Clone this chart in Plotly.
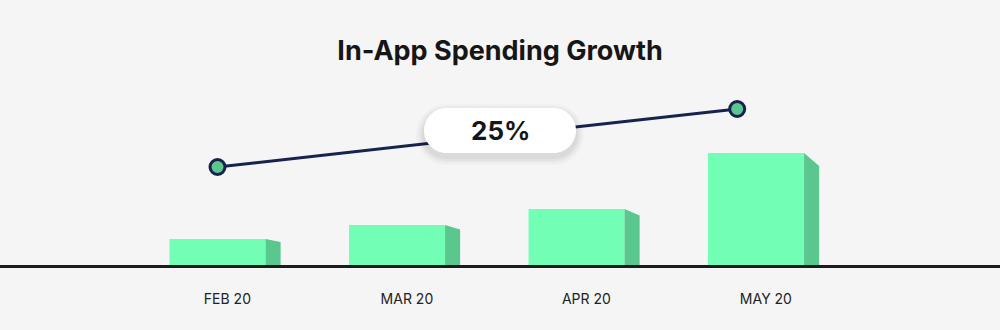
import plotly.graph_objects as go

# ---- data ----
categories = ["FEB 20", "MAR 20", "APR 20", "MAY 20"]
spending = [26, 40, 56, 112]          # bar heights (relative units)
trend_x = [0, 2.895]                  # trend line start/end (category index units)
trend_y = [98, 156]                   # trend line values
growth_label = "25%"
title_text = "In-App Spending Growth"

# ---- style ----
BG = "#f5f5f5"
FRONT = "#72feb5"
SIDE = "#5ac78f"
NAVY = "#17234d"
DARK = "#1c1c1c"
bar_w = 0.535
side_w = 0.084
slant = 0.115
label_shift = 0.055

idx = list(range(len(categories)))

fig = go.Figure()

# side faces of bars (3D look)
for i, v in zip(idx, spending):
    xr = i + bar_w / 2
    fig.add_trace(go.Scatter(
        x=[xr, xr, xr + side_w, xr + side_w, xr],
        y=[0, v, v - v * slant, 0, 0],
        fill="toself", fillcolor=SIDE, mode="lines",
        line=dict(width=0, color=SIDE), hoverinfo="skip", showlegend=False))

# front faces
fig.add_trace(go.Bar(x=idx, y=spending, width=bar_w, marker=dict(color=FRONT, line=dict(width=0)),
                     showlegend=False, hoverinfo="skip"))

# trend line
fig.add_trace(go.Scatter(
    x=trend_x, y=trend_y, mode="lines+markers",
    line=dict(color=NAVY, width=3),
    marker=dict(size=15, color=SIDE, line=dict(color=NAVY, width=3)),
    showlegend=False, hoverinfo="skip"))


def pill(a, b):
    r = b
    k = 0.5523 * r
    return (f"M {-a + r},{-b} L {a - r},{-b} "
            f"C {a - r + k},{-b} {a},{-k} {a},0 "
            f"C {a},{k} {a - r + k},{b} {a - r},{b} "
            f"L {-a + r},{b} "
            f"C {-a + r - k},{b} {-a},{k} {-a},0 "
            f"C {-a},{-k} {-a + r - k},{-b} {-a + r},{-b} Z")


shapes = []
pill_y = 134.5
for e, op in [(8, 0.018), (6, 0.025), (4, 0.03), (2, 0.035)]:
    shapes.append(dict(type="path", xref="paper", yref="y", xsizemode="pixel", ysizemode="pixel",
                       xanchor=0.5, yanchor=pill_y - 4, path=pill(76 + e, 22.5 + e),
                       fillcolor=f"rgba(0,0,0,{op})", line=dict(width=0), layer="above"))
shapes.append(dict(type="path", xref="paper", yref="y", xsizemode="pixel", ysizemode="pixel",
                   xanchor=0.5, yanchor=pill_y, path=pill(76, 22.5),
                   fillcolor="white", line=dict(width=0), layer="above"))

fig.update_layout(
    width=1000, height=330,
    margin=dict(l=0, r=0, t=0, b=65),
    paper_bgcolor=BG, plot_bgcolor=BG,
    title=dict(text=title_text, x=0.5, xanchor="center", y=1 - 50.5 / 330, yanchor="middle",
               font=dict(family="Inter", size=27, color="#161616", weight=700)),
    xaxis=dict(range=[-1.2117, 4.359], showgrid=False, zeroline=False,
               tickvals=[i + label_shift for i in idx], ticktext=categories,
               ticks="", ticklabelstandoff=19,
               tickfont=dict(family="Inter", size=14, color="#222222"),
               showline=True, linewidth=3, linecolor=DARK, fixedrange=True),
    yaxis=dict(range=[0, 265], visible=False, fixedrange=True),
    shapes=shapes,
    annotations=[dict(text=growth_label, xref="paper", yref="y", x=0.5, y=pill_y,
                      showarrow=False, font=dict(family="Inter", size=26, color="#161616", weight=700))],
    showlegend=False,
)

fig.write_html("out.html", config={"displayModeBar": False})
